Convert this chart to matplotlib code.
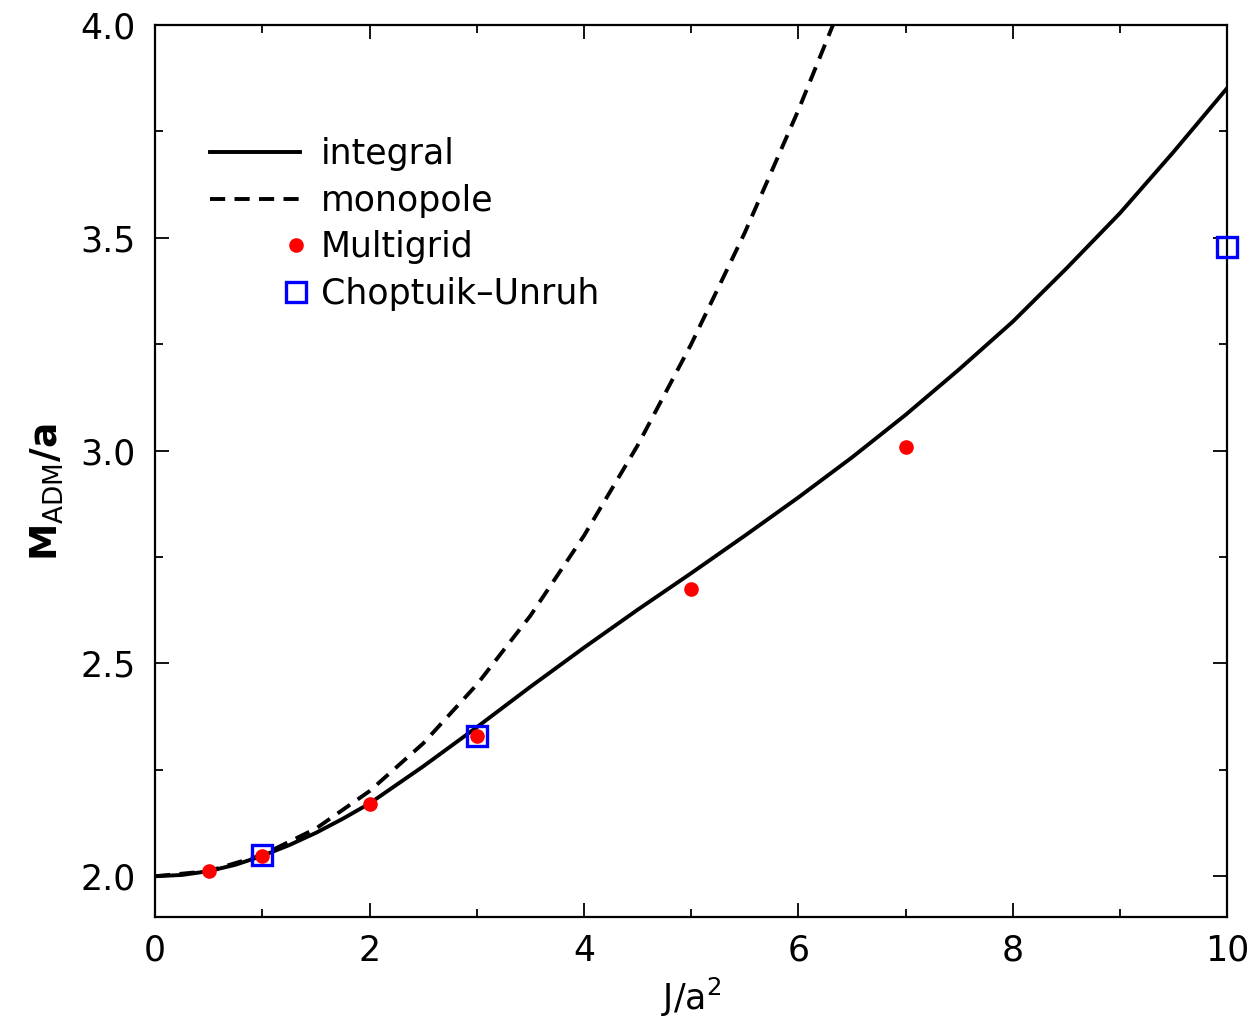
import matplotlib
matplotlib.use('Agg')
from matplotlib import pyplot as plt
from matplotlib.legend_handler import HandlerLine2D

# J/a^2 grid for the two curves
J = [0.0, 0.25, 0.5, 0.75, 1.0, 1.25, 1.5, 1.75, 2.0, 2.5, 3.0, 3.5, 4.0, 4.5,
     5.0, 5.5, 6.0, 6.5, 7.0, 7.5, 8.0, 8.5, 9.0, 9.5, 10.0]
integral = [2.000, 2.003, 2.012, 2.027, 2.048, 2.073, 2.102, 2.135, 2.171, 2.258,
            2.350, 2.445, 2.537, 2.626, 2.712, 2.800, 2.890, 2.984, 3.084, 3.191,
            3.303, 3.428, 3.558, 3.702, 3.852]

Jmono = [0.0, 0.5, 1.0, 1.5, 2.0, 2.5, 3.0, 3.5, 4.0, 4.5, 5.0, 5.5, 6.0, 6.5]
monopole = [2.000, 2.012, 2.050, 2.112, 2.200, 2.312, 2.450, 2.612, 2.800, 3.012,
            3.250, 3.512, 3.800, 4.110]

# numerical results
Jmg = [0.5, 1.0, 2.0, 3.0, 5.0, 7.0]
Mmg = [2.012, 2.048, 2.169, 2.329, 2.676, 3.009]

Jcu = [1.0, 3.0, 10.0]
Mcu = [2.049, 2.329, 3.479]

xticks = [0, 2, 4, 6, 8, 10]
yticks = [2.0, 2.5, 3.0, 3.5, 4.0]

plt.rcParams['font.family'] = ['DejaVu Sans']
plt.rcParams['mathtext.fontset'] = 'dejavusans'


# single legend marker at the right end of the handle, like the original
class RightMarker(HandlerLine2D):
    def get_xdata(self, legend, xdescent, ydescent, width, height, fontsize):
        right = -xdescent + width - 0.12 * fontsize
        xdata = [right - 0.2 * fontsize, right + 0.2 * fontsize]
        return xdata, xdata


fig = plt.figure(figsize=(12.51, 10.19), dpi=100)
ax = fig.add_axes([0.124, 0.100, 0.857, 0.8755])

ax.plot(J, integral, color='black', lw=2.8, label='integral')
ax.plot(Jmono, monopole, color='black', lw=2.8, dashes=(3.9, 2.4), label='monopole')
mg, = ax.plot(Jmg, Mmg, 'o', color='#ff0000', ms=9.5, mec='#ff0000',
              label='Multigrid', zorder=4)
cu, = ax.plot(Jcu, Mcu, 's', mfc='none', mec='#0000ff', mew=2.4, ms=14,
              label='Choptuik\u2013Unruh', zorder=3, clip_on=False)

ax.set_xlim(0, 10)
ax.set_ylim(1.904, 4.0)
ax.set_xticks(xticks)
ax.set_xticks([1, 3, 5, 7, 9], minor=True)
ax.set_yticks(yticks)
ax.set_yticklabels(['%.1f' % v for v in yticks])
ax.set_yticks([2.25, 2.75, 3.25, 3.75], minor=True)
ax.tick_params(which='both', direction='in', top=True, right=True, width=1.3,
               labelsize=25)
ax.tick_params(axis='x', pad=12)
ax.tick_params(axis='y', pad=14)
ax.tick_params(which='major', length=10)
ax.tick_params(which='minor', length=6)
for s in ax.spines.values():
    s.set_linewidth(1.6)

ax.set_xlabel('J/a$^2$', fontsize=25, labelpad=6)
ax.set_ylabel(r'$\mathbf{M}_{\rm ADM}\mathbf{/a}$', fontsize=27)
ax.yaxis.set_label_coords(-0.083, 0.476)

ax.legend(loc='upper left', bbox_to_anchor=(0.022, 0.909), frameon=False,
          fontsize=25, handlelength=2.6, handletextpad=0.6, labelspacing=0.36,
          handler_map={mg: RightMarker(numpoints=1), cu: RightMarker(numpoints=1)})

fig.savefig('out.png', dpi=100)
